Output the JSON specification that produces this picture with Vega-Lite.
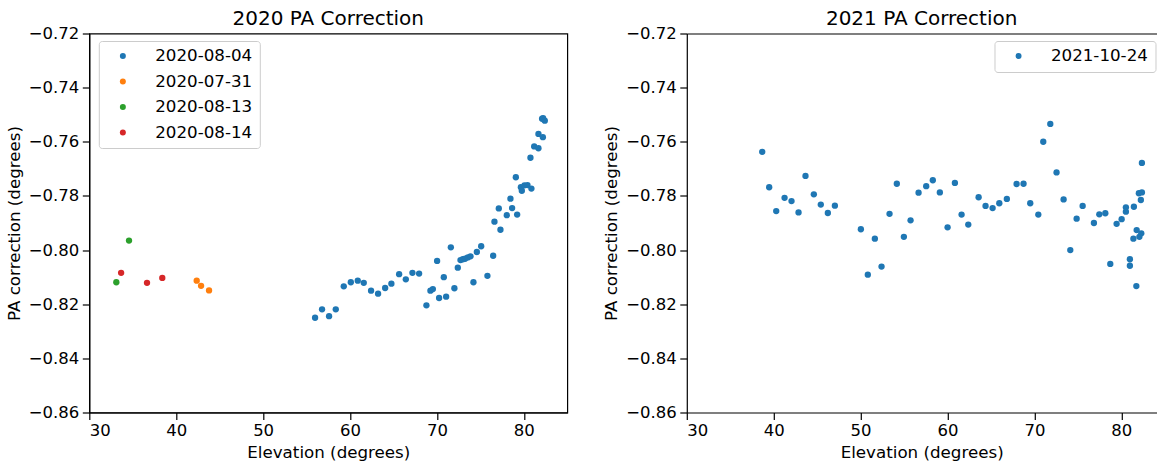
{
  "$schema": "https://vega.github.io/schema/vega-lite/v6.json",
  "background": "white",
  "padding": {"left": 5.3, "top": 7.5, "right": 0, "bottom": 0},
  "autosize": {"type": "pad"},
  "config": {
    "font": "DejaVu Sans",
    "view": {"stroke": "black", "strokeWidth": 1.2},
    "concat": {"spacing": 34.5},
    "axis": {
      "grid": false,
      "labelFont": "DejaVu Sans",
      "titleFont": "DejaVu Sans",
      "labelFontSize": 16.5,
      "titleFontSize": 16.7,
      "labelColor": "black",
      "titleColor": "black",
      "titleFontWeight": "normal",
      "domainColor": "black",
      "domainWidth": 1.2,
      "tickColor": "black",
      "tickWidth": 1.2,
      "tickSize": 7,
      "labelPadding": 3.5
    },
    "axisX": {"titlePadding": 5},
    "axisY": {"titlePadding": 5},
    "title": {"fontSize": 20, "fontWeight": "normal", "color": "black", "font": "DejaVu Sans", "baseline": "alphabetic", "offset": -3},
    "legend": {
      "labelFont": "DejaVu Sans",
      "labelFontSize": 16.7,
      "labelColor": "black",
      "symbolType": "circle",
      "symbolSize": 36,
      "symbolStrokeWidth": 0,
      "padding": 6.7,
      "rowPadding": 7.5,
      "strokeColor": "#cccccc",
      "fillColor": "rgba(255,255,255,0.8)",
      "cornerRadius": 3,
      "symbolOffset": 9,
      "labelOffset": 24
    }
  },
  "datasets": {
    "d2020": [
      {"elev": 55.98, "pa": -0.825, "date": "2020-08-04"},
      {"elev": 56.78, "pa": -0.8219, "date": "2020-08-04"},
      {"elev": 57.59, "pa": -0.8244, "date": "2020-08-04"},
      {"elev": 58.36, "pa": -0.8219, "date": "2020-08-04"},
      {"elev": 59.28, "pa": -0.8134, "date": "2020-08-04"},
      {"elev": 60.09, "pa": -0.8119, "date": "2020-08-04"},
      {"elev": 60.89, "pa": -0.8113, "date": "2020-08-04"},
      {"elev": 61.58, "pa": -0.8121, "date": "2020-08-04"},
      {"elev": 62.42, "pa": -0.815, "date": "2020-08-04"},
      {"elev": 63.23, "pa": -0.8161, "date": "2020-08-04"},
      {"elev": 64.04, "pa": -0.814, "date": "2020-08-04"},
      {"elev": 64.76, "pa": -0.8124, "date": "2020-08-04"},
      {"elev": 65.65, "pa": -0.8089, "date": "2020-08-04"},
      {"elev": 66.42, "pa": -0.8108, "date": "2020-08-04"},
      {"elev": 67.18, "pa": -0.8084, "date": "2020-08-04"},
      {"elev": 67.95, "pa": -0.8087, "date": "2020-08-04"},
      {"elev": 68.79, "pa": -0.8204, "date": "2020-08-04"},
      {"elev": 69.25, "pa": -0.815, "date": "2020-08-04"},
      {"elev": 69.53, "pa": -0.8144, "date": "2020-08-04"},
      {"elev": 70.02, "pa": -0.804, "date": "2020-08-04"},
      {"elev": 70.25, "pa": -0.8177, "date": "2020-08-04"},
      {"elev": 70.79, "pa": -0.81, "date": "2020-08-04"},
      {"elev": 71.06, "pa": -0.8172, "date": "2020-08-04"},
      {"elev": 71.6, "pa": -0.799, "date": "2020-08-04"},
      {"elev": 72.01, "pa": -0.8141, "date": "2020-08-04"},
      {"elev": 72.4, "pa": -0.8065, "date": "2020-08-04"},
      {"elev": 72.71, "pa": -0.8037, "date": "2020-08-04"},
      {"elev": 72.98, "pa": -0.8034, "date": "2020-08-04"},
      {"elev": 73.24, "pa": -0.8032, "date": "2020-08-04"},
      {"elev": 73.55, "pa": -0.8027, "date": "2020-08-04"},
      {"elev": 73.86, "pa": -0.8023, "date": "2020-08-04"},
      {"elev": 74.2, "pa": -0.8119, "date": "2020-08-04"},
      {"elev": 74.59, "pa": -0.8007, "date": "2020-08-04"},
      {"elev": 75.09, "pa": -0.7986, "date": "2020-08-04"},
      {"elev": 75.81, "pa": -0.8095, "date": "2020-08-04"},
      {"elev": 76.47, "pa": -0.8021, "date": "2020-08-04"},
      {"elev": 76.62, "pa": -0.7895, "date": "2020-08-04"},
      {"elev": 77.12, "pa": -0.7846, "date": "2020-08-04"},
      {"elev": 77.31, "pa": -0.7925, "date": "2020-08-04"},
      {"elev": 78.04, "pa": -0.7871, "date": "2020-08-04"},
      {"elev": 78.46, "pa": -0.781, "date": "2020-08-04"},
      {"elev": 78.65, "pa": -0.7845, "date": "2020-08-04"},
      {"elev": 79.23, "pa": -0.7869, "date": "2020-08-04"},
      {"elev": 79.08, "pa": -0.7731, "date": "2020-08-04"},
      {"elev": 79.66, "pa": -0.7768, "date": "2020-08-04"},
      {"elev": 79.77, "pa": -0.7781, "date": "2020-08-04"},
      {"elev": 80.07, "pa": -0.7761, "date": "2020-08-04"},
      {"elev": 80.42, "pa": -0.776, "date": "2020-08-04"},
      {"elev": 80.87, "pa": -0.7773, "date": "2020-08-04"},
      {"elev": 80.76, "pa": -0.7659, "date": "2020-08-04"},
      {"elev": 81.19, "pa": -0.7617, "date": "2020-08-04"},
      {"elev": 81.68, "pa": -0.7624, "date": "2020-08-04"},
      {"elev": 81.68, "pa": -0.7571, "date": "2020-08-04"},
      {"elev": 82.19, "pa": -0.7583, "date": "2020-08-04"},
      {"elev": 82.1, "pa": -0.7515, "date": "2020-08-04"},
      {"elev": 82.22, "pa": -0.7513, "date": "2020-08-04"},
      {"elev": 82.41, "pa": -0.7522, "date": "2020-08-04"},
      {"elev": 42.36, "pa": -0.8113, "date": "2020-07-31"},
      {"elev": 42.86, "pa": -0.8132, "date": "2020-07-31"},
      {"elev": 43.78, "pa": -0.8149, "date": "2020-07-31"},
      {"elev": 33.11, "pa": -0.8119, "date": "2020-08-13"},
      {"elev": 34.57, "pa": -0.7965, "date": "2020-08-13"},
      {"elev": 33.66, "pa": -0.8084, "date": "2020-08-14"},
      {"elev": 36.64, "pa": -0.8121, "date": "2020-08-14"},
      {"elev": 38.4, "pa": -0.8103, "date": "2020-08-14"}
    ],
    "d2021": [
      {"elev": 38.68, "pa": -0.7637, "date": "2021-10-24"},
      {"elev": 39.48, "pa": -0.7768, "date": "2021-10-24"},
      {"elev": 40.29, "pa": -0.7856, "date": "2021-10-24"},
      {"elev": 41.25, "pa": -0.7807, "date": "2021-10-24"},
      {"elev": 42.05, "pa": -0.7819, "date": "2021-10-24"},
      {"elev": 42.86, "pa": -0.7861, "date": "2021-10-24"},
      {"elev": 43.66, "pa": -0.7726, "date": "2021-10-24"},
      {"elev": 44.62, "pa": -0.7794, "date": "2021-10-24"},
      {"elev": 45.42, "pa": -0.7832, "date": "2021-10-24"},
      {"elev": 46.23, "pa": -0.7863, "date": "2021-10-24"},
      {"elev": 47.04, "pa": -0.7836, "date": "2021-10-24"},
      {"elev": 50.03, "pa": -0.7923, "date": "2021-10-24"},
      {"elev": 50.83, "pa": -0.8091, "date": "2021-10-24"},
      {"elev": 51.64, "pa": -0.7958, "date": "2021-10-24"},
      {"elev": 52.41, "pa": -0.8061, "date": "2021-10-24"},
      {"elev": 53.33, "pa": -0.7866, "date": "2021-10-24"},
      {"elev": 54.17, "pa": -0.7755, "date": "2021-10-24"},
      {"elev": 54.98, "pa": -0.7951, "date": "2021-10-24"},
      {"elev": 55.75, "pa": -0.789, "date": "2021-10-24"},
      {"elev": 56.67, "pa": -0.7788, "date": "2021-10-24"},
      {"elev": 57.55, "pa": -0.7764, "date": "2021-10-24"},
      {"elev": 58.31, "pa": -0.7742, "date": "2021-10-24"},
      {"elev": 59.12, "pa": -0.7787, "date": "2021-10-24"},
      {"elev": 60.01, "pa": -0.7916, "date": "2021-10-24"},
      {"elev": 60.85, "pa": -0.7752, "date": "2021-10-24"},
      {"elev": 61.62, "pa": -0.7869, "date": "2021-10-24"},
      {"elev": 62.39, "pa": -0.7906, "date": "2021-10-24"},
      {"elev": 63.58, "pa": -0.7805, "date": "2021-10-24"},
      {"elev": 64.38, "pa": -0.7837, "date": "2021-10-24"},
      {"elev": 65.19, "pa": -0.7845, "date": "2021-10-24"},
      {"elev": 65.96, "pa": -0.7827, "date": "2021-10-24"},
      {"elev": 66.83, "pa": -0.7811, "date": "2021-10-24"},
      {"elev": 67.95, "pa": -0.7756, "date": "2021-10-24"},
      {"elev": 68.75, "pa": -0.7755, "date": "2021-10-24"},
      {"elev": 69.52, "pa": -0.7827, "date": "2021-10-24"},
      {"elev": 70.45, "pa": -0.7869, "date": "2021-10-24"},
      {"elev": 71.02, "pa": -0.76, "date": "2021-10-24"},
      {"elev": 71.83, "pa": -0.7534, "date": "2021-10-24"},
      {"elev": 72.55, "pa": -0.7713, "date": "2021-10-24"},
      {"elev": 73.36, "pa": -0.7813, "date": "2021-10-24"},
      {"elev": 74.13, "pa": -0.8, "date": "2021-10-24"},
      {"elev": 74.86, "pa": -0.7884, "date": "2021-10-24"},
      {"elev": 75.55, "pa": -0.7837, "date": "2021-10-24"},
      {"elev": 76.85, "pa": -0.79, "date": "2021-10-24"},
      {"elev": 77.47, "pa": -0.7868, "date": "2021-10-24"},
      {"elev": 78.16, "pa": -0.7864, "date": "2021-10-24"},
      {"elev": 78.73, "pa": -0.8051, "date": "2021-10-24"},
      {"elev": 79.46, "pa": -0.7903, "date": "2021-10-24"},
      {"elev": 80.04, "pa": -0.7886, "date": "2021-10-24"},
      {"elev": 80.53, "pa": -0.7842, "date": "2021-10-24"},
      {"elev": 80.53, "pa": -0.7858, "date": "2021-10-24"},
      {"elev": 80.99, "pa": -0.8034, "date": "2021-10-24"},
      {"elev": 80.99, "pa": -0.8058, "date": "2021-10-24"},
      {"elev": 81.45, "pa": -0.784, "date": "2021-10-24"},
      {"elev": 81.39, "pa": -0.7958, "date": "2021-10-24"},
      {"elev": 81.73, "pa": -0.8133, "date": "2021-10-24"},
      {"elev": 81.77, "pa": -0.7926, "date": "2021-10-24"},
      {"elev": 82.08, "pa": -0.7951, "date": "2021-10-24"},
      {"elev": 82.3, "pa": -0.7938, "date": "2021-10-24"},
      {"elev": 82.02, "pa": -0.779, "date": "2021-10-24"},
      {"elev": 82.37, "pa": -0.7787, "date": "2021-10-24"},
      {"elev": 82.25, "pa": -0.7815, "date": "2021-10-24"},
      {"elev": 82.37, "pa": -0.7678, "date": "2021-10-24"}
    ]
  },
  "hconcat": [
    {
      "width": 478,
      "height": 379,
      "title": "2020 PA Correction",
      "data": {"name": "d2020"},
      "mark": {"type": "point", "filled": true, "size": 40, "opacity": 1},
      "encoding": {
        "x": {"field": "elev", "type": "quantitative", "scale": {"domain": [30, 85], "nice": false, "zero": false}, "axis": {"values": [30, 40, 50, 60, 70, 80], "title": "Elevation (degrees)"}},
        "y": {"field": "pa", "type": "quantitative", "scale": {"domain": [-0.86, -0.72], "nice": false, "zero": false}, "axis": {"values": [-0.86, -0.84, -0.82, -0.8, -0.78, -0.76, -0.74, -0.72], "format": ".2f", "title": "PA correction (degrees)"}},
        "color": {"field": "date", "type": "nominal", "scale": {"domain": ["2020-08-04", "2020-07-31", "2020-08-13", "2020-08-14"], "range": ["#1f77b4", "#ff7f0e", "#2ca02c", "#d62728"]}, "legend": {"title": null, "orient": "none", "legendX": 9.5, "legendY": 7.5}}
      }
    },
    {
      "width": 469.7,
      "height": 379,
      "title": "2021 PA Correction",
      "view": {"stroke": null},
      "data": {"name": "d2021"},
      "layer": [
        {
          "mark": {"type": "point", "filled": true, "size": 40, "opacity": 1},
          "encoding": {
            "x": {"field": "elev", "type": "quantitative", "scale": {"domain": [30, 84.05], "nice": false, "zero": false}, "axis": {"values": [30, 40, 50, 60, 70, 80], "title": "Elevation (degrees)"}},
            "y": {"field": "pa", "type": "quantitative", "scale": {"domain": [-0.86, -0.72], "nice": false, "zero": false}, "axis": {"values": [-0.86, -0.84, -0.82, -0.8, -0.78, -0.76, -0.74, -0.72], "format": ".2f", "title": "PA correction (degrees)"}},
            "color": {"field": "date", "type": "nominal", "scale": {"domain": ["2021-10-24"], "range": ["#1f77b4"]}, "legend": {"title": null, "orient": "none", "legendX": 307.7, "legendY": 7.5}}
          }
        },
        {
          "mark": {"type": "point", "opacity": 0},
          "encoding": {
            "x": {"field": "elev", "type": "quantitative", "scale": {"domain": [30, 84.05], "nice": false, "zero": false}, "axis": {"orient": "top", "labels": false, "ticks": false, "title": null, "domain": true}},
            "y": {"field": "pa", "type": "quantitative", "scale": {"domain": [-0.86, -0.72], "nice": false, "zero": false}}
          }
        }
      ],
      "resolve": {"axis": {"x": "independent"}}
    }
  ],
  "resolve": {"scale": {"color": "independent"}}
}
